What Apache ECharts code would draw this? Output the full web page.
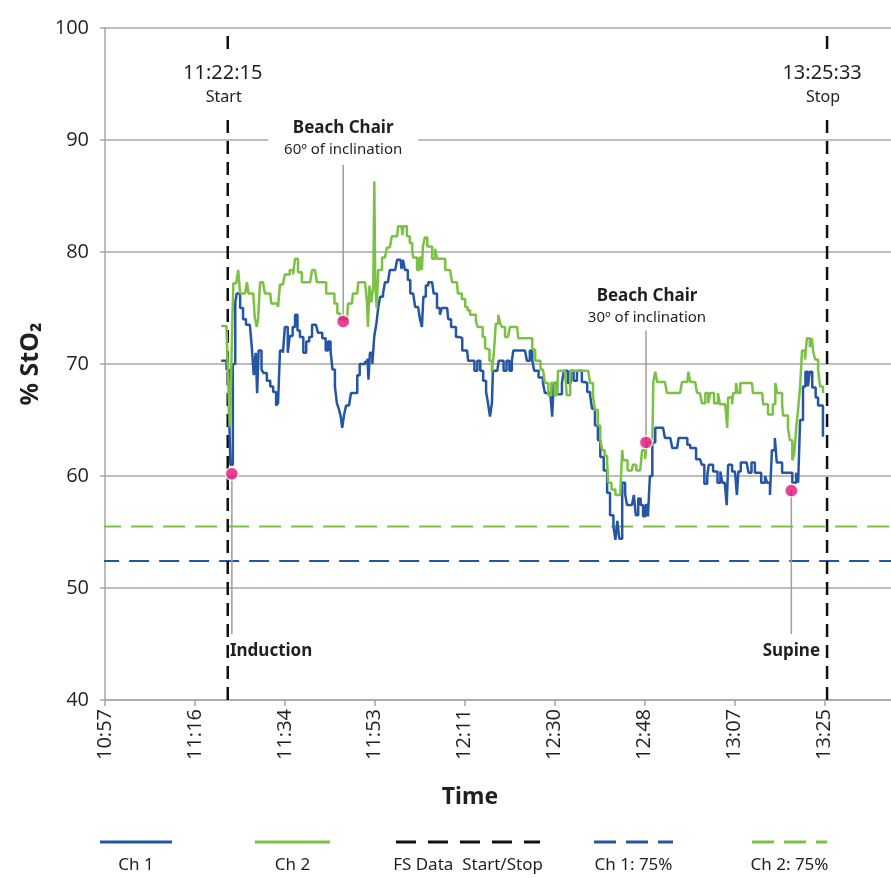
<!DOCTYPE html>
<html>
<head>
<meta charset="utf-8">
<script src="https://cdn.jsdelivr.net/npm/echarts@6/dist/echarts.min.js"></script>
<style>
html, body { margin: 0; padding: 0; background: #fff; }
#chart { width: 891px; height: 878px; }
</style>
</head>
<body>
<div id="chart"></div>
<script>
// time is in minutes after 10:57
var tickLabels = ['10:57', '11:16', '11:34', '11:53', '12:11', '12:30', '12:48', '13:07', '13:25'];
var tickStep = 18.5;

var ch1Time = [23.9, 25.0, 25.5, 25.8, 26.3, 26.8, 27.1, 27.8, 28.4, 29.0, 29.8, 30.2, 30.6, 31.0, 31.3, 31.6, 32.2, 32.6, 33.3, 34.0,
    34.6, 35.2, 35.6, 36.0, 36.6, 37.0, 37.6, 38.0, 38.6, 39.1, 39.6, 40.1, 40.8, 41.4, 42.0, 42.6, 43.4, 43.8, 44.7, 45.4,
    45.9, 46.4, 46.8, 47.3, 47.7, 48.1, 48.5, 48.8, 49.2, 49.6, 50.2, 50.6, 51.4, 51.9, 52.4, 53.0, 53.5, 54.0, 54.2, 54.5,
    55.0, 55.4, 55.8, 56.2, 56.6, 57.2, 57.6, 58.2, 58.6, 59.7, 60.1, 60.8, 61.0, 61.3, 61.7, 62.3, 62.8, 63.4, 63.8, 64.4,
    64.8, 65.2, 65.5, 66.0, 66.5, 67.3, 67.6, 68.0, 68.3, 68.9, 69.3, 70.4, 70.6, 71.2, 71.6, 72.2, 73.0, 73.5, 74.5, 74.7,
    75.5, 76.0, 76.6, 77.2, 77.8, 78.4, 78.8, 79.2, 79.6, 79.8, 80.7, 81.0, 82.0, 82.6, 83.2, 83.7, 84.0, 86.4, 86.8, 87.4,
    87.9, 88.3, 89.2, 90.1, 90.5, 91.6, 92.0, 92.3, 93.0, 94.0, 94.4, 95.2, 95.8, 96.4, 97.1, 98.1, 98.6, 99.2, 99.8, 100.2,
    100.8, 101.4, 101.9, 102.6, 103.3, 103.9, 104.6, 105.0, 105.4, 105.8, 106.4, 107.0, 107.4, 108.4, 108.8, 109.2, 109.7, 110.2, 110.7, 111.2,
    111.7, 112.1, 112.6, 113.2, 114.8, 115.2, 116.3, 116.7, 117.7, 118.0, 119.3, 119.8, 120.4, 121.0, 121.6, 122.4, 122.8, 123.3, 123.9, 124.2,
    125.1, 125.5, 126.0, 126.6, 127.0, 127.5, 127.9, 128.2, 129.0, 129.6, 130.0, 130.3, 130.8, 132.0, 132.4, 133.0, 133.7, 134.2, 135.0, 135.8,
    136.2, 136.8, 137.2, 137.8, 138.2, 139.3, 140.9, 141.4, 142.2, 142.6, 143.0, 143.6, 144.1, 144.6, 145.0, 145.5, 146.2, 146.7, 147.1, 147.7];
var ch1Value = [70.3, 69.5, 66.0, 61.0, 70.0, 75.5, 76.3, 75.0, 74.0, 73.5, 73.5, 71.5, 69.0, 71.0, 67.4, 71.2, 69.5, 69.2, 68.5, 68.0,
    67.5, 66.3, 66.5, 71.2, 71.0, 73.3, 71.0, 72.5, 73.3, 74.4, 73.0, 72.4, 71.0, 72.0, 72.4, 73.5, 73.5, 72.8, 72.3, 71.2,
    72.0, 71.2, 69.5, 68.0, 66.5, 66.0, 65.3, 64.3, 65.5, 66.3, 66.3, 67.4, 67.4, 69.0, 70.0, 70.0, 70.2, 70.5, 68.6, 71.0,
    70.0, 72.5, 73.5, 75.0, 76.0, 76.3, 77.3, 77.3, 78.4, 78.4, 79.3, 79.3, 78.5, 79.3, 78.4, 77.5, 76.3, 76.3, 75.1, 75.1,
    74.0, 73.3, 76.0, 77.0, 77.3, 77.3, 76.3, 76.3, 75.0, 74.4, 75.0, 75.0, 74.0, 73.3, 73.3, 72.4, 72.3, 71.2, 71.2, 70.3,
    70.3, 69.4, 70.3, 69.4, 68.5, 67.5, 66.5, 65.3, 66.5, 69.4, 69.4, 70.3, 69.4, 70.3, 69.4, 70.3, 71.2, 71.2, 70.3, 71.2,
    70.3, 69.4, 68.8, 68.3, 67.4, 67.4, 65.3, 68.3, 67.3, 68.3, 69.4, 68.3, 69.4, 68.5, 69.4, 68.4, 68.3, 67.5, 67.2, 66.0,
    64.5, 63.2, 61.7, 60.5, 58.5, 56.5, 55.5, 54.3, 56.0, 54.4, 59.4, 58.4, 57.4, 57.4, 58.3, 56.5, 58.0, 57.4, 56.4, 57.4,
    56.4, 60.0, 63.0, 64.3, 64.3, 63.4, 63.4, 62.5, 62.5, 63.4, 63.4, 62.8, 62.5, 62.5, 61.5, 61.4, 61.0, 59.3, 60.0, 61.0,
    60.4, 60.4, 59.4, 60.4, 59.4, 59.4, 57.4, 61.0, 60.4, 60.4, 58.3, 60.4, 61.2, 61.2, 60.3, 61.2, 60.3, 60.3, 59.4, 60.0,
    59.4, 58.3, 62.3, 63.4, 61.2, 60.3, 60.3, 59.4, 60.3, 59.4, 65.0, 68.0, 69.3, 68.0, 69.3, 67.9, 67.0, 66.3, 66.3, 63.5];

var ch2Time = [23.9, 25.0, 25.4, 25.7, 26.1, 26.4, 27.0, 27.4, 27.8, 28.8, 29.2, 29.5, 30.5, 30.8, 31.2, 31.5, 31.9, 32.5, 32.9, 34.0,
    34.2, 35.4, 35.6, 36.0, 36.6, 37.0, 38.0, 38.7, 39.1, 39.7, 40.5, 41.2, 42.2, 42.6, 43.2, 43.6, 45.0, 45.5, 46.7, 47.2,
    47.8, 48.4, 49.8, 50.0, 50.8, 51.0, 51.9, 52.1, 53.5, 53.9, 54.1, 54.4, 54.8, 55.2, 55.4, 55.6, 55.9, 56.2, 56.6, 57.0,
    57.6, 58.0, 58.6, 59.0, 60.1, 60.3, 61.0, 61.2, 61.4, 61.7, 62.1, 62.7, 63.2, 63.4, 64.2, 64.7, 65.2, 65.4, 65.8, 66.3,
    66.5, 67.3, 67.9, 68.3, 69.5, 70.0, 71.0, 71.4, 72.4, 72.6, 73.4, 74.1, 74.6, 75.1, 75.8, 76.3, 76.7, 77.2, 77.7, 78.2,
    78.6, 79.1, 79.6, 80.0, 80.4, 80.9, 81.3, 81.7, 82.3, 82.9, 83.3, 84.8, 85.0, 87.4, 87.9, 88.5, 89.1, 89.6, 90.1, 90.5,
    91.2, 91.8, 92.5, 93.0, 93.2, 94.6, 95.0, 95.3, 95.7, 99.4, 99.8, 100.4, 100.8, 101.4, 101.9, 102.3, 102.8, 103.3, 103.5, 104.2,
    105.0, 106.0, 106.4, 106.6, 107.5, 108.4, 108.6, 109.3, 110.1, 110.5, 111.1, 111.5, 112.6, 112.8, 113.2, 113.6, 115.2, 115.6, 118.3, 118.7,
    119.8, 120.0, 120.4, 121.4, 121.8, 122.4, 122.8, 123.5, 124.1, 124.5, 125.3, 126.1, 126.5, 127.6, 128.0, 128.2, 129.0, 129.2, 129.8, 130.2,
    130.7, 133.1, 133.3, 135.2, 135.4, 136.4, 137.4, 137.9, 138.3, 139.3, 139.5, 140.5, 140.9, 141.4, 141.8, 142.2, 142.6, 143.0, 143.4, 144.0,
    144.4, 145.0, 145.4, 145.7, 146.1, 146.7, 147.1, 147.7];
var ch2Value = [73.4, 73.0, 68.0, 64.4, 72.0, 77.2, 77.2, 78.4, 76.3, 76.3, 77.3, 76.3, 76.3, 74.2, 73.3, 74.0, 77.3, 77.3, 76.3, 76.3,
    75.4, 75.4, 75.1, 77.1, 77.1, 78.0, 78.4, 78.0, 79.4, 78.2, 77.3, 77.3, 77.3, 78.4, 78.4, 77.3, 77.3, 76.3, 76.3, 75.4,
    74.5, 74.0, 74.0, 75.4, 75.4, 76.3, 76.3, 77.3, 77.3, 75.5, 73.3, 77.0, 75.5, 77.0, 86.3, 77.0, 75.0, 78.4, 78.4, 79.5,
    79.5, 80.4, 80.4, 81.4, 81.4, 82.3, 82.3, 81.5, 82.3, 82.3, 81.4, 80.8, 80.1, 79.5, 78.4, 79.5, 78.4, 80.5, 81.3, 80.5,
    80.5, 79.4, 80.3, 79.4, 79.4, 78.4, 78.4, 77.3, 77.3, 76.3, 75.8, 75.1, 74.8, 74.4, 74.4, 73.8, 73.3, 73.3, 72.4, 71.4,
    71.3, 70.3, 69.3, 71.0, 73.6, 74.4, 73.6, 73.3, 72.4, 72.4, 73.3, 73.3, 72.3, 72.3, 71.3, 70.3, 70.3, 69.5, 69.5, 68.3,
    67.2, 68.3, 67.2, 67.2, 69.4, 69.4, 67.2, 67.2, 69.4, 69.3, 68.3, 67.1, 65.9, 64.5, 63.2, 62.3, 61.8, 61.2, 59.4, 58.8,
    58.3, 58.3, 62.3, 61.4, 60.5, 60.5, 61.0, 60.5, 60.5, 62.3, 61.5, 63.0, 63.0, 68.4, 69.3, 68.4, 68.4, 67.4, 67.4, 68.4,
    68.4, 69.3, 68.4, 68.4, 67.4, 67.4, 66.5, 67.4, 66.5, 67.4, 66.5, 67.4, 66.4, 66.4, 64.3, 67.0, 66.4, 67.4, 68.3, 67.4,
    68.3, 68.3, 67.4, 67.4, 66.4, 65.5, 66.4, 68.3, 67.4, 66.4, 65.4, 64.3, 63.2, 61.4, 62.0, 64.3, 66.0, 68.0, 71.2, 70.4,
    72.3, 71.5, 72.3, 71.1, 70.4, 69.5, 68.0, 67.4];

// FS data start / stop
var startStopTime = [25.25, 148.55];
var startStopClock = ['11:22:15', '13:25:33'];
var startStopName = ['Start', 'Stop'];

// 75% thresholds
var limitCh1 = 52.4;
var limitCh2 = 55.5;

// events
var eventName = ['Induction', 'Beach Chair', 'Beach Chair', 'Supine'];
var eventNote = ['', '60º of inclination', '30º of inclination', ''];
var eventTime = [26.1, 49.0, 111.3, 141.2];
var eventValue = [60.2, 73.8, 63.0, 58.7];
var eventLineEnd = [45.9, 87.8, 73.0, 45.9];

var blue = '#2456a5';
var green = '#7bc143';
var pink = '#e2157d';
var gray = '#a6a6a6';
var textColor = '#231f20';
var xMax = 161.7;

function pairs(xs, ys) {
    return xs.map(function (x, i) { return [x, ys[i]]; });
}

var myChart = echarts.init(document.getElementById('chart'));

var series = [];

// threshold lines
series.push({
    type: 'line', data: [[-1.2, limitCh1], [xMax, limitCh1]], symbol: 'none', silent: true, z: 2,
    lineStyle: { color: blue, width: 2, type: [20, 10] }
});
series.push({
    type: 'line', data: [[-1.2, limitCh2], [xMax, limitCh2]], symbol: 'none', silent: true, z: 2,
    lineStyle: { color: green, width: 2, type: [22, 10] }
});

// start / stop lines
startStopTime.forEach(function (t) {
    series.push({
        type: 'line', data: [[t, 40], [t, 100]], symbol: 'none', silent: true, z: 3,
        lineStyle: { color: '#111', width: 2.5, type: [13, 8] }
    });
});

// event connectors
eventTime.forEach(function (t, i) {
    series.push({
        type: 'line', data: [[t, eventValue[i]], [t, eventLineEnd[i]]], symbol: 'none', silent: true, z: 3,
        lineStyle: { color: '#9d9d9d', width: 1.5 }
    });
});

// channels
series.push({
    name: 'Ch 1', type: 'line', step: 'end', data: pairs(ch1Time, ch1Value), symbol: 'none', z: 4,
    lineStyle: { color: blue, width: 2.5 }
});
series.push({
    name: 'Ch 2', type: 'line', step: 'end', data: pairs(ch2Time, ch2Value), symbol: 'none', z: 5,
    lineStyle: { color: green, width: 2.5 }
});

// event dots
series.push({
    type: 'scatter', data: pairs(eventTime, eventValue), symbolSize: 13, z: 8,
    itemStyle: { color: pink, borderColor: '#fff', borderWidth: 1.5 }
});

var option = {
    animation: false,
    backgroundColor: '#fff',
    grid: { left: 105, right: 0, top: 28, bottom: 178 },
    xAxis: {
        type: 'value', min: 0, max: xMax, interval: tickStep,
        axisLine: { lineStyle: { color: gray, width: 1.5 } },
        axisTick: { length: 6, lineStyle: { color: gray, width: 1.5 } },
        splitLine: { show: false },
        axisLabel: {
            rotate: 90, margin: 9, fontSize: 20, color: textColor, fontFamily: 'Open Sans',
            showMaxLabel: false,
            formatter: function (v) {
                var i = Math.round(v / tickStep);
                return (Math.abs(i * tickStep - v) < 1e-6 && tickLabels[i]) ? tickLabels[i] : '';
            }
        }
    },
    yAxis: {
        type: 'value', min: 40, max: 100, interval: 10,
        name: '% StO₂', nameLocation: 'middle', nameGap: 57,
        nameTextStyle: { fontSize: 25, fontWeight: 'bold', color: textColor, fontFamily: 'Noto Sans' },
        axisLine: { show: true, lineStyle: { color: gray, width: 1.5 } },
        axisTick: { show: true, length: 5, lineStyle: { color: gray, width: 1.5 } },
        splitLine: { lineStyle: { color: gray, width: 1.5 } },
        axisLabel: { margin: 16, fontSize: 20, color: textColor, fontFamily: 'Open Sans' }
    },
    series: series
};

myChart.setOption(option);

// texts placed at data positions, plus legend and the x title
function px(t, v) {
    return myChart.convertToPixel({ xAxisIndex: 0, yAxisIndex: 0 }, [t, v]);
}
function txt(x, y, s, font, align) {
    return {
        type: 'text', x: x, y: y, z: 100,
        style: { text: s, fill: textColor, font: font, textAlign: align || 'center', textVerticalAlign: 'middle' }
    };
}
function whiteBox(cx, cy, w, h) {
    return { type: 'rect', z: 99, shape: { x: cx - w / 2, y: cy - h / 2, width: w, height: h }, style: { fill: '#fff' } };
}

var graphics = [];
startStopTime.forEach(function (t, i) {
    var p = px(t, 94.9);
    graphics.push(whiteBox(p[0], p[1], 20, 60));
    graphics.push(txt(p[0] - 5, p[1] - 12, startStopClock[i], '20px "Noto Sans"'));
    graphics.push(txt(p[0] - 4, p[1] + 12, startStopName[i], '16px "Noto Sans"'));
});
[[1, 49.0, 90.1], [2, 111.5, 75.1]].forEach(function (n) {
    var p = px(n[1], n[2]);
    graphics.push(whiteBox(p[0], p[1], 150, 44));
    graphics.push(txt(p[0], p[1] - 11, eventName[n[0]], 'bold 17px "Noto Sans"'));
    graphics.push(txt(p[0], p[1] + 11, eventNote[n[0]], '15px "Noto Sans"'));
});
var pInd = px(25.7, 44.4);
graphics.push(txt(pInd[0], pInd[1], eventName[0], 'bold 17px "Noto Sans"', 'left'));
var pSup = px(141.2, 44.4);
graphics.push(txt(pSup[0], pSup[1], eventName[3], 'bold 17px "Noto Sans"'));

var legendItems = [
    { name: 'Ch 1', color: blue, dash: null, x1: 100, x2: 172 },
    { name: 'Ch 2', color: green, dash: null, x1: 255, x2: 330 },
    { name: 'FS Data  Start/Stop', color: '#111', dash: [20, 12], x1: 396, x2: 540 },
    { name: 'Ch 1: 75%', color: blue, dash: [22, 10], x1: 594, x2: 673 },
    { name: 'Ch 2: 75%', color: green, dash: [22, 10], x1: 752, x2: 827 }
];
legendItems.forEach(function (it) {
    graphics.push({
        type: 'line', shape: { x1: it.x1, y1: 842, x2: it.x2, y2: 842 },
        style: { stroke: it.color, lineWidth: 3, lineDash: it.dash }
    });
    graphics.push(txt((it.x1 + it.x2) / 2, 865, it.name, '17px "Noto Sans"'));
});
graphics.push(txt(470, 797, 'Time', 'bold 23px "Noto Sans"'));

myChart.setOption({ graphic: graphics });
</script>
</body>
</html>
